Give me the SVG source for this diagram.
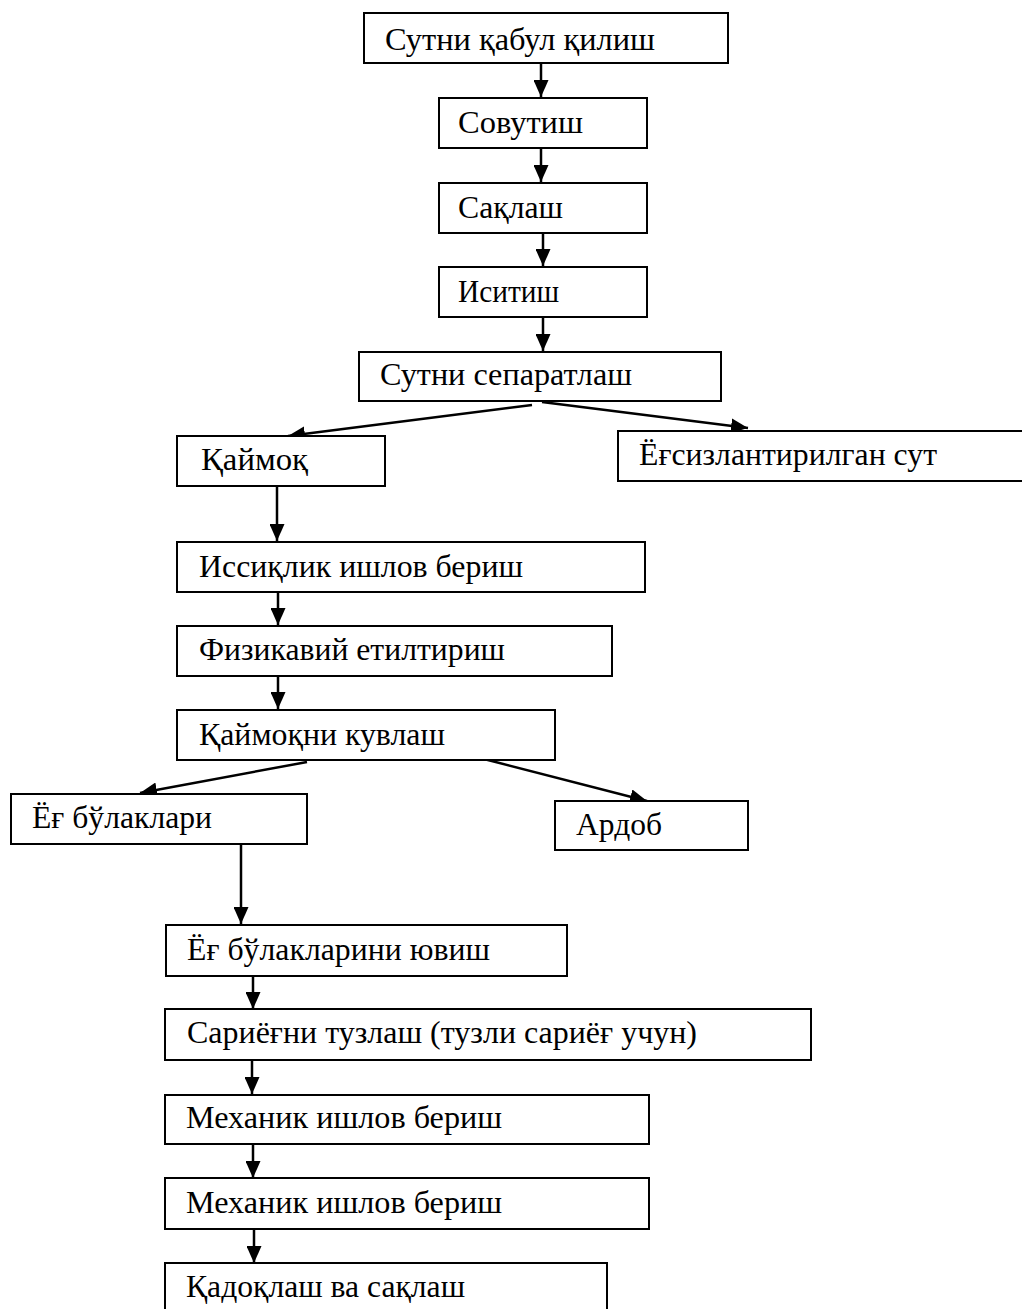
<svg xmlns="http://www.w3.org/2000/svg" width="1022" height="1309" viewBox="0 0 1022 1309">
<style>
rect.b{fill:#fff;stroke:#000;stroke-width:2}
text{font-family:"Liberation Serif","Times New Roman",serif;font-size:32px;fill:#000}
line.c{stroke:#000;stroke-width:2.5;marker-end:url(#ah)}
</style>
<defs>
<marker id="ah" markerUnits="userSpaceOnUse" markerWidth="17" markerHeight="15" viewBox="0 0 17 15" refX="17" refY="7.5" orient="auto">
<path d="M0,0 L17,7.5 L0,15 Z" fill="#000"/>
</marker>
</defs>
<rect width="1022" height="1309" fill="#fff"/>
<g id="connectors">
<line class="c" x1="541" y1="63" x2="541" y2="97"/>
<line class="c" x1="541" y1="148" x2="541" y2="182"/>
<line class="c" x1="543" y1="233" x2="543" y2="266"/>
<line class="c" x1="543" y1="317" x2="543" y2="351"/>
<line class="c" x1="532" y1="405" x2="288" y2="436"/>
<line class="c" x1="542" y1="402" x2="748" y2="428"/>
<line class="c" x1="277" y1="486" x2="277" y2="541"/>
<line class="c" x1="278" y1="592" x2="278" y2="625"/>
<line class="c" x1="278" y1="676" x2="278" y2="709"/>
<line class="c" x1="307" y1="762" x2="140" y2="793"/>
<line class="c" x1="480" y1="758" x2="647" y2="801"/>
<line class="c" x1="241" y1="844" x2="241" y2="924"/>
<line class="c" x1="253" y1="976" x2="253" y2="1009"/>
<line class="c" x1="252" y1="1060" x2="252" y2="1094"/>
<line class="c" x1="253" y1="1144" x2="253" y2="1178"/>
<line class="c" x1="254" y1="1229" x2="254" y2="1263"/>
</g>
<g id="n1"><rect class="b" x="364" y="13" width="364" height="50"/><text x="385" y="50" textLength="270" lengthAdjust="spacingAndGlyphs">Сутни қабул қилиш</text></g>
<g id="n2"><rect class="b" x="439" y="98" width="208" height="50"/><text x="458" y="133" textLength="125" lengthAdjust="spacingAndGlyphs">Совутиш</text></g>
<g id="n3"><rect class="b" x="439" y="183" width="208" height="50"/><text x="458" y="218" textLength="105" lengthAdjust="spacingAndGlyphs">Сақлаш</text></g>
<g id="n4"><rect class="b" x="439" y="267" width="208" height="50"/><text x="458" y="302" textLength="101" lengthAdjust="spacingAndGlyphs">Иситиш</text></g>
<g id="n5"><rect class="b" x="359" y="352" width="362" height="49"/><text x="380" y="385" textLength="252" lengthAdjust="spacingAndGlyphs">Сутни сепаратлаш</text></g>
<g id="n6"><rect class="b" x="177" y="436" width="208" height="50"/><text x="201" y="470" textLength="107" lengthAdjust="spacingAndGlyphs">Қаймоқ</text></g>
<g id="n7"><rect class="b" x="618" y="431" width="420" height="50"/><text x="639" y="465" textLength="298" lengthAdjust="spacingAndGlyphs">Ёғсизлантирилган сут</text></g>
<g id="n8"><rect class="b" x="177" y="542" width="468" height="50"/><text x="199" y="577" textLength="324" lengthAdjust="spacingAndGlyphs">Иссиқлик ишлов бериш</text></g>
<g id="n9"><rect class="b" x="177" y="626" width="435" height="50"/><text x="199" y="660" textLength="306" lengthAdjust="spacingAndGlyphs">Физикавий етилтириш</text></g>
<g id="n10"><rect class="b" x="177" y="710" width="378" height="50"/><text x="199" y="745" textLength="246" lengthAdjust="spacingAndGlyphs">Қаймоқни кувлаш</text></g>
<g id="n11"><rect class="b" x="11" y="794" width="296" height="50"/><text x="32" y="828" textLength="180" lengthAdjust="spacingAndGlyphs">Ёғ бўлаклари</text></g>
<g id="n12"><rect class="b" x="555" y="801" width="193" height="49"/><text x="576" y="835" textLength="86" lengthAdjust="spacingAndGlyphs">Ардоб</text></g>
<g id="n13"><rect class="b" x="166" y="925" width="401" height="51"/><text x="187" y="960" textLength="303" lengthAdjust="spacingAndGlyphs">Ёғ бўлакларини ювиш</text></g>
<g id="n14"><rect class="b" x="165" y="1009" width="646" height="51"/><text x="187" y="1043" textLength="510" lengthAdjust="spacingAndGlyphs">Сариёғни тузлаш (тузли сариёғ учун)</text></g>
<g id="n15"><rect class="b" x="165" y="1095" width="484" height="49"/><text x="186" y="1128" textLength="316" lengthAdjust="spacingAndGlyphs">Механик ишлов бериш</text></g>
<g id="n16"><rect class="b" x="165" y="1178" width="484" height="51"/><text x="186" y="1213" textLength="316" lengthAdjust="spacingAndGlyphs">Механик ишлов бериш</text></g>
<g id="n17"><rect class="b" x="165" y="1263" width="442" height="60"/><text x="186" y="1297" textLength="279" lengthAdjust="spacingAndGlyphs">Қадоқлаш ва сақлаш</text></g>
</svg>
